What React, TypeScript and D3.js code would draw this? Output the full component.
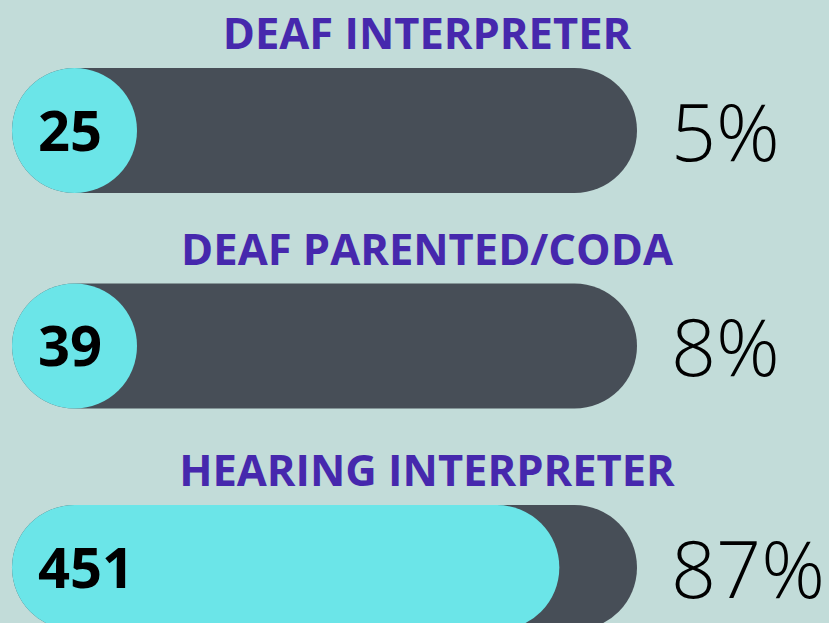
import React from "react";
import * as d3 from "d3";

const categories = ["DEAF INTERPRETER", "DEAF PARENTED/CODA", "HEARING INTERPRETER"];
const counts = [25, 39, 451];
const percentLabels = ["5%", "8%", "87%"];

const W = 829;
const H = 623;
const BAR_LEFT = 12;
const BAR_RIGHT = 637;
const BAR_H = 125;

export default function App() {
  const total = d3.sum(counts);
  const x = d3.scaleLinear().domain([0, total]).range([0, BAR_RIGHT - BAR_LEFT]);
  const y = d3.scalePoint<string>().domain(categories).range([68, 505]);

  return (
    <svg
      width={W}
      height={H}
      style={{ position: "absolute", left: 0, top: 0, display: "block" }}
    >
      <rect x={0} y={0} width={W} height={H} fill="#c2dcd9" />
      {categories.map((c, i) => {
        const top = (y(c) as number) - (i === 1 ? 3 : 0);
        const cy = top + BAR_H / 2;
        const fillW = Math.max(BAR_H, x(counts[i]));
        return (
          <g key={c}>
            <text
              x={427}
              y={top - 19}
              textAnchor="middle"
              fontFamily="'Open Sans', sans-serif"
              fontWeight={700}
              fontSize={43.5}
              fill="#4628ad"
            >
              {c}
            </text>
            <rect
              x={BAR_LEFT}
              y={top}
              width={BAR_RIGHT - BAR_LEFT}
              height={BAR_H}
              rx={BAR_H / 2}
              ry={BAR_H / 2}
              fill="#474e57"
            />
            <rect
              x={BAR_LEFT}
              y={top}
              width={fillW}
              height={BAR_H}
              rx={BAR_H / 2}
              ry={BAR_H / 2}
              fill="#6be5e8"
            />
            <text
              x={38}
              y={cy + 20}
              fontFamily="'Open Sans', sans-serif"
              fontWeight={700}
              fontSize={56}
              fill="#000"
            >
              {counts[i]}
            </text>
            <text
              x={671}
              y={cy + 30}
              fontFamily="'Open Sans', sans-serif"
              fontWeight={300}
              fontSize={79}
              fill="#000"
            >
              {percentLabels[i]}
            </text>
          </g>
        );
      })}
    </svg>
  );
}
